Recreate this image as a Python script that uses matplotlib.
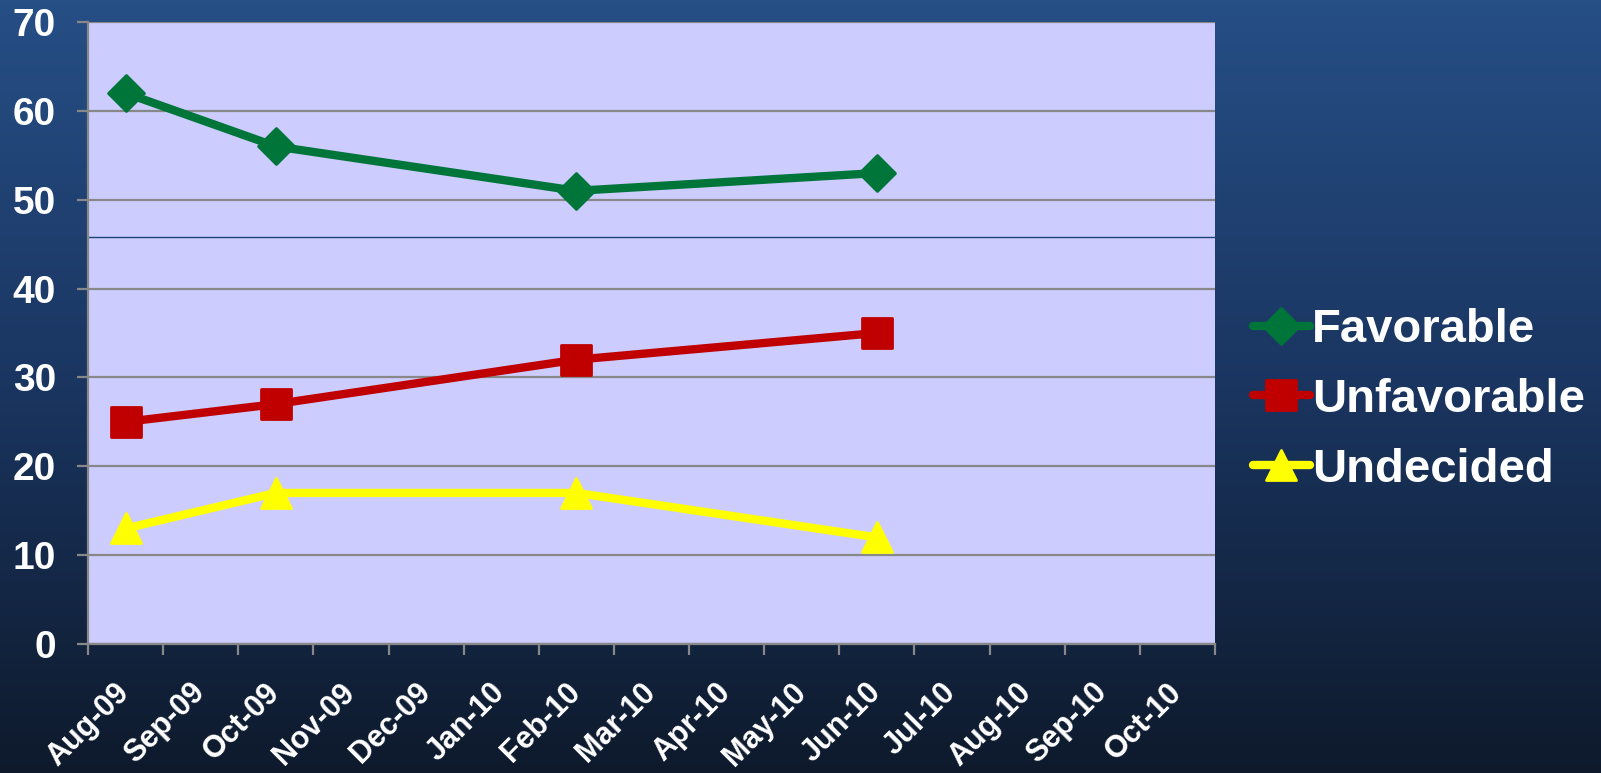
import matplotlib
matplotlib.use("Agg")
import matplotlib.pyplot as plt
import numpy as np
from matplotlib.colors import LinearSegmentedColormap
from matplotlib.markers import MarkerStyle
from matplotlib.transforms import ScaledTranslation

plt.rcParams['font.family'] = ['Liberation Sans', 'DejaVu Sans']
plt.rcParams['font.weight'] = 'bold'

months = ['Aug-09', 'Sep-09', 'Oct-09', 'Nov-09', 'Dec-09', 'Jan-10', 'Feb-10',
          'Mar-10', 'Apr-10', 'May-10', 'Jun-10', 'Jul-10', 'Aug-10', 'Sep-10', 'Oct-10']
survey_months = ['Aug-09', 'Oct-09', 'Feb-10', 'Jun-10']
favorable = [62, 56, 51, 53]
unfavorable = [25, 27, 32, 35]
undecided = [13, 17, 17, 12]
odd_line = 45.8  # stray dark line across the plot area

x = [months.index(m) for m in survey_months]

fig = plt.figure(figsize=(16.01, 7.73), dpi=100)

# gradient slide background
bg = fig.add_axes([0, 0, 1, 1], zorder=-10)
cmap = LinearSegmentedColormap.from_list('bg', ['#0e1a2c', '#1a3560', '#264f86'])
bg.imshow(np.linspace(0, 1, 256).reshape(-1, 1), cmap=cmap, aspect='auto',
          origin='lower', extent=[0, 1, 0, 1])
bg.axis('off')

ax = fig.add_axes([88 / 1601, 1 - 644 / 773, (1215 - 88) / 1601, (644 - 22) / 773])
ax.set_facecolor('#ccccff')

ax.set_ylim(0, 70)
ax.set_xlim(-0.5, len(months) - 0.5)
ax.set_yticks(range(0, 71, 10))
ax.yaxis.grid(True, color='#888888', linewidth=1.6)
ax.set_axisbelow(True)
ax.axhline(odd_line, color='#1c4575', linewidth=1.0, zorder=1)

line_kw = dict(linewidth=6, solid_capstyle='round', solid_joinstyle='round', zorder=3)
ax.plot(x, favorable, color='#00753a', marker=MarkerStyle('D', joinstyle='round'),
        markersize=18, markeredgewidth=2, markeredgecolor='#00753a',
        label='Favorable', **line_kw)
ax.plot(x, unfavorable, color='#c00000', marker=MarkerStyle('s', joinstyle='round'),
        markersize=21, markeredgewidth=2, markeredgecolor='#c00000',
        label='Unfavorable', **line_kw)
ax.plot(x, undecided, color='#ffff00', marker=MarkerStyle('^', joinstyle='round'),
        markersize=21, markeredgewidth=2, markeredgecolor='#ffff00',
        label='Undecided', **line_kw)

for s in ['top', 'right']:
    ax.spines[s].set_visible(False)
for s in ['left', 'bottom']:
    ax.spines[s].set_color('#888888')
    ax.spines[s].set_linewidth(1.6)

ax.set_xticks(np.arange(len(months)))
ax.set_xticklabels(months, rotation=45, ha='right', va='top', rotation_mode='anchor')
ax.set_xticks(np.arange(len(months) + 1) - 0.5, minor=True)
ax.tick_params(axis='x', which='major', length=0, pad=24, labelsize=22, labelcolor='white')
ax.tick_params(axis='x', which='minor', length=8, width=1.6, color='#888888', direction='out')
ax.tick_params(axis='y', length=8, width=1.6, color='#888888', pad=15,
               labelsize=28, labelcolor='white')
shift = ScaledTranslation(-11 / 100, 0, fig.dpi_scale_trans)
for lbl in ax.get_xticklabels():
    lbl.set_transform(lbl.get_transform() + shift)

leg = fig.legend(loc='center left', bbox_to_anchor=(1253 / 1601, (773 - 400) / 773),
                 frameon=False, fontsize=34, handlelength=1.2, handletextpad=0.05,
                 labelspacing=0.55, borderpad=0, borderaxespad=0)
for t in leg.get_texts():
    t.set_color('white')

fig.savefig('out.png', dpi=100)
